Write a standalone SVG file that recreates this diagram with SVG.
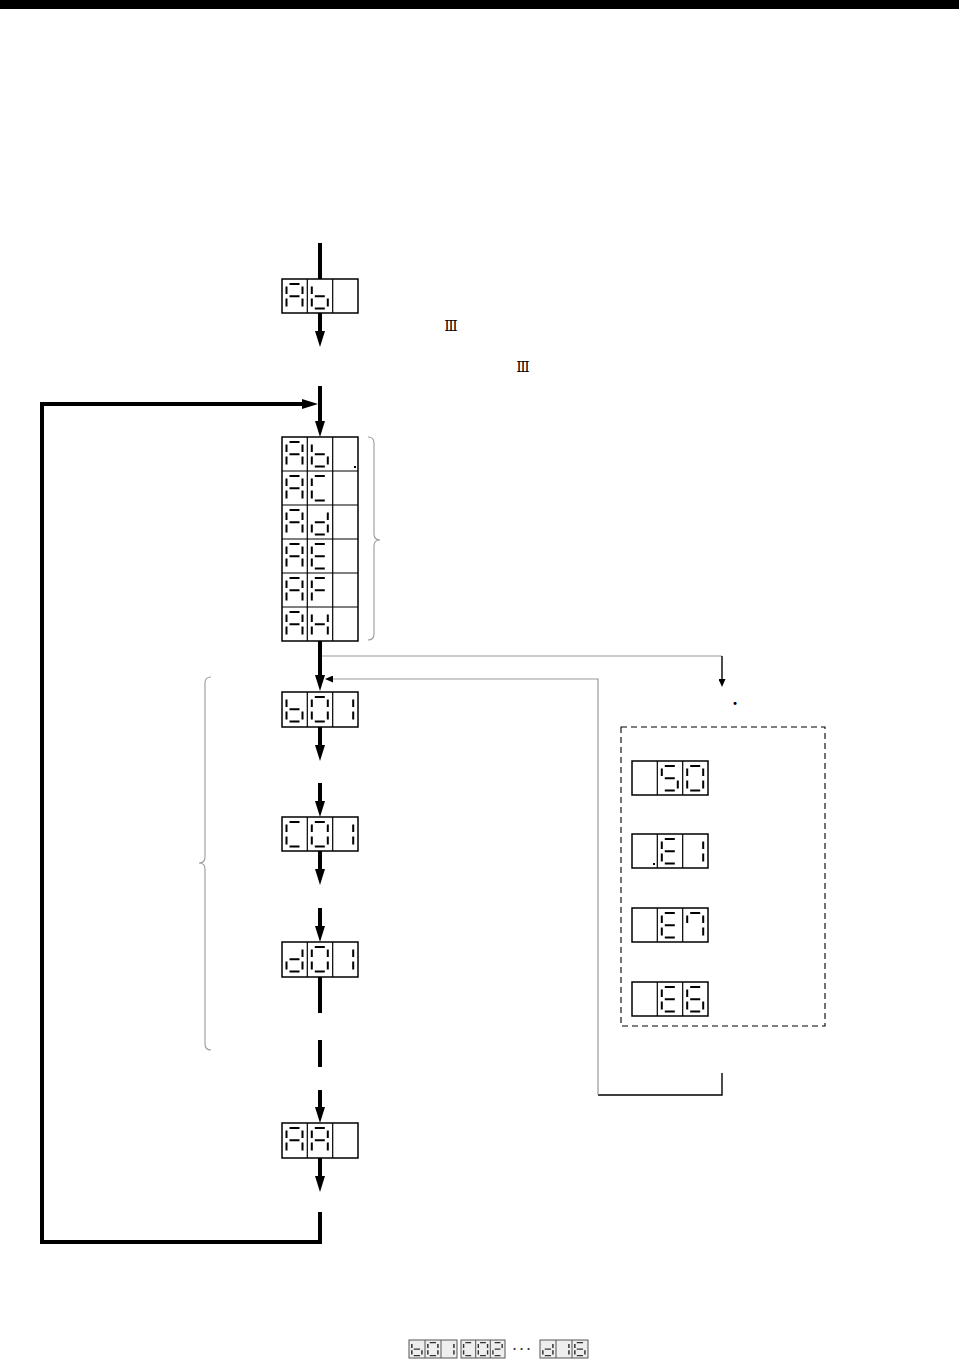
<svg xmlns="http://www.w3.org/2000/svg" xmlns:xlink="http://www.w3.org/1999/xlink" width="959" height="1360" viewBox="0 0 959 1360">
<style>
.disp{fill:#fff;stroke:#000;stroke-width:1.5}
.div{stroke:#000;stroke-width:1.2}
.seg{stroke:#000;stroke-width:2;fill:none}
.main{stroke:#000;stroke-width:4;fill:none}
.thin{stroke:#999;stroke-width:1.2;fill:none}
.thinb{stroke:#000;stroke-width:1.4;fill:none}
.brace{stroke:#999;stroke-width:1.1;fill:none}
.lg{fill:#eee;stroke:#555;stroke-width:1}
.lgseg{stroke:#333;fill:none}
.txt{font-family:"DejaVu Serif","DejaVu Sans",serif;fill:#000}
</style>
<defs>
<marker id="ah" viewBox="0 -5 16 10" refX="8" refY="0" markerWidth="16" markerHeight="10" markerUnits="userSpaceOnUse" orient="auto"><path d="M0,-5 L16,0 L0,5 Z" fill="#000"/></marker>
<marker id="as" viewBox="0 -3.5 8 7" refX="2" refY="0" markerWidth="8" markerHeight="7" markerUnits="userSpaceOnUse" orient="auto"><path d="M0,-3.5 L8,0 L0,3.5 Z" fill="#000"/></marker>
<path id="c-A" d="M7.5 5H17.5M20.5 7.5V15M20.5 19.5V27.5M4.5 19.5V27.5M4.5 7.5V15M7.5 17.3H17.5"/>
<path id="c-b" d="M20.5 19.5V27.5M7.5 29.5H17.5M4.5 19.5V27.5M4.5 7.5V15M7.5 17.3H17.5"/>
<path id="c-C" d="M7.5 5H17.5M7.5 29.5H17.5M4.5 19.5V27.5M4.5 7.5V15"/>
<path id="c-d" d="M20.5 7.5V15M20.5 19.5V27.5M7.5 29.5H17.5M4.5 19.5V27.5M7.5 17.3H17.5"/>
<path id="c-E" d="M7.5 5H17.5M7.5 29.5H17.5M4.5 19.5V27.5M4.5 7.5V15M7.5 17.3H17.5"/>
<path id="c-F" d="M7.5 5H17.5M4.5 19.5V27.5M4.5 7.5V15M7.5 17.3H17.5"/>
<path id="c-H" d="M20.5 7.5V15M20.5 19.5V27.5M4.5 19.5V27.5M4.5 7.5V15M7.5 17.3H17.5"/>
<path id="c-0" d="M7.5 5H17.5M20.5 7.5V15M20.5 19.5V27.5M7.5 29.5H17.5M4.5 19.5V27.5M4.5 7.5V15"/>
<path id="c-1" d="M20.5 7.5V15M20.5 19.5V27.5"/>
<path id="c-2" d="M7.5 5H17.5M20.5 7.5V15M7.5 17.3H17.5M4.5 19.5V27.5M7.5 29.5H17.5"/>
<path id="c-5" d="M7.5 5H17.5M4.5 7.5V15M7.5 17.3H17.5M20.5 19.5V27.5M7.5 29.5H17.5"/>
<path id="c-6" d="M7.5 5H17.5M4.5 7.5V15M7.5 17.3H17.5M4.5 19.5V27.5M20.5 19.5V27.5M7.5 29.5H17.5"/>
<path id="c-7" d="M7.5 5H17.5M4.5 7.5V15M20.5 7.5V15M20.5 19.5V27.5"/>
</defs>

<rect id="topbar" x="0" y="0" width="959" height="9" fill="#000"/>

<g id="connectors">
<path class="main" d="M320 243V279"/>
<path class="main" d="M320 313V339" marker-end="url(#ah)"/>
<path class="main" d="M320 386V429" marker-end="url(#ah)"/>
<path class="main" d="M320 641V683" marker-end="url(#ah)"/>
<path class="main" d="M320 727V753" marker-end="url(#ah)"/>
<path class="main" d="M320 783V809" marker-end="url(#ah)"/>
<path class="main" d="M320 851V877" marker-end="url(#ah)"/>
<path class="main" d="M320 908V934" marker-end="url(#ah)"/>
<path class="main" d="M320 977V1013"/>
<path class="main" d="M320 1040V1067"/>
<path class="main" d="M320 1090V1115" marker-end="url(#ah)"/>
<path class="main" d="M320 1158V1184" marker-end="url(#ah)"/>
<path class="main" d="M320 1212V1242H42V404H310" marker-end="url(#ah)"/>
<path class="thin" d="M322 656H722"/>
<path class="thinb" d="M722 656V681" marker-end="url(#as)"/>
<path class="thinb" d="M722 1073V1095H598"/>
<path class="thin" d="M598 1095V679H331" marker-end="url(#as)"/>
<path class="brace" d="M368 437Q374 437 374 443V534Q374 540 380 540Q374 540 374 546V634Q374 640 368 640"/>
<path class="brace" d="M211 677Q205 677 205 683V857Q205 863 199 863Q205 863 205 869V1044Q205 1050 211 1050"/>
</g>

<g id="n-ab">
<rect class="disp" x="282" y="279" width="76" height="34"/>
<path class="div" d="M307.3 279V313M332.7 279V313"/>
<use href="#c-A" class="seg" x="282" y="279"/><use href="#c-b" class="seg" x="307.3" y="279"/>
</g>

<g id="n-stack">
<rect class="disp" x="282" y="437" width="76" height="204"/>
<path class="div" d="M307.3 437V641M332.7 437V641M282 471H358M282 505H358M282 539H358M282 573H358M282 607H358"/>
<use href="#c-A" class="seg" x="282" y="437"/><use href="#c-b" class="seg" x="307.3" y="437"/>
<rect x="354" y="466" width="2" height="2" fill="#000"/>
<use href="#c-A" class="seg" x="282" y="471"/><use href="#c-C" class="seg" x="307.3" y="471"/>
<use href="#c-A" class="seg" x="282" y="505"/><use href="#c-d" class="seg" x="307.3" y="505"/>
<use href="#c-A" class="seg" x="282" y="539"/><use href="#c-E" class="seg" x="307.3" y="539"/>
<use href="#c-A" class="seg" x="282" y="573"/><use href="#c-F" class="seg" x="307.3" y="573"/>
<use href="#c-A" class="seg" x="282" y="607"/><use href="#c-H" class="seg" x="307.3" y="607"/>
</g>

<g id="n-b01">
<rect class="disp" x="282" y="692" width="76" height="35"/>
<path class="div" d="M307.3 692V727M332.7 692V727"/>
<use href="#c-b" class="seg" x="282" y="692"/><use href="#c-0" class="seg" x="307.3" y="692"/><use href="#c-1" class="seg" x="332.7" y="692"/>
</g>

<g id="n-c01">
<rect class="disp" x="282" y="817" width="76" height="34"/>
<path class="div" d="M307.3 817V851M332.7 817V851"/>
<use href="#c-C" class="seg" x="282" y="817"/><use href="#c-0" class="seg" x="307.3" y="817"/><use href="#c-1" class="seg" x="332.7" y="817"/>
</g>

<g id="n-d01">
<rect class="disp" x="282" y="942" width="76" height="35"/>
<path class="div" d="M307.3 942V977M332.7 942V977"/>
<use href="#c-d" class="seg" x="282" y="942"/><use href="#c-0" class="seg" x="307.3" y="942"/><use href="#c-1" class="seg" x="332.7" y="942"/>
</g>

<g id="n-aa">
<rect class="disp" x="282" y="1123" width="76" height="35"/>
<path class="div" d="M307.3 1123V1158M332.7 1123V1158"/>
<use href="#c-A" class="seg" x="282" y="1123"/><use href="#c-A" class="seg" x="307.3" y="1123"/>
</g>

<g id="n-alarmbox">
<rect x="621" y="727" width="204" height="299" fill="none" stroke="#000" stroke-width="1.1" stroke-dasharray="6 4"/>
</g>

<g id="n-s0">
<rect class="disp" x="632" y="761" width="76" height="34"/>
<path class="div" d="M657.3 761V795M682.7 761V795"/>
<use href="#c-5" class="seg" x="657.3" y="761"/><use href="#c-0" class="seg" x="682.7" y="761"/>
</g>
<g id="n-e1">
<rect class="disp" x="632" y="834" width="76" height="34"/>
<path class="div" d="M657.3 834V868M682.7 834V868"/>
<rect x="653" y="863" width="2" height="2" fill="#000"/>
<use href="#c-E" class="seg" x="657.3" y="834"/><use href="#c-1" class="seg" x="682.7" y="834"/>
</g>
<g id="n-e7">
<rect class="disp" x="632" y="908" width="76" height="34"/>
<path class="div" d="M657.3 908V942M682.7 908V942"/>
<use href="#c-E" class="seg" x="657.3" y="908"/><use href="#c-7" class="seg" x="682.7" y="908"/>
</g>
<g id="n-e6">
<rect class="disp" x="632" y="982" width="76" height="34"/>
<path class="div" d="M657.3 982V1016M682.7 982V1016"/>
<use href="#c-E" class="seg" x="657.3" y="982"/><use href="#c-6" class="seg" x="682.7" y="982"/>
</g>

<g id="labels">
<text class="txt" x="451" y="331" font-size="14" text-anchor="middle">Ⅲ</text>
<text class="txt" x="523" y="372" font-size="14" text-anchor="middle">Ⅲ</text>
<text class="txt" x="735" y="705" font-size="16" text-anchor="middle" font-weight="bold">.</text>
</g>

<g id="legend">
<rect class="lg" x="409" y="1340" width="48" height="18"/>
<path stroke="#555" stroke-width="1" d="M425 1340V1358M441 1340V1358"/>
<g class="lgseg" stroke-width="2.4">
<use href="#c-b" transform="translate(409,1340) scale(0.63,0.53)"/>
<use href="#c-0" transform="translate(425,1340) scale(0.63,0.53)"/>
<use href="#c-1" transform="translate(441,1340) scale(0.63,0.53)"/>
</g>
<rect class="lg" x="461" y="1340" width="44" height="18"/>
<path stroke="#555" stroke-width="1" d="M475.7 1340V1358M490.3 1340V1358"/>
<g class="lgseg" stroke-width="2.4">
<use href="#c-C" transform="translate(461,1340) scale(0.58,0.53)"/>
<use href="#c-0" transform="translate(475.7,1340) scale(0.58,0.53)"/>
<use href="#c-2" transform="translate(490.3,1340) scale(0.58,0.53)"/>
</g>
<text x="522" y="1354" font-family="Liberation Sans, sans-serif" font-size="18" letter-spacing="1" text-anchor="middle" fill="#333">···</text>
<rect class="lg" x="540" y="1340" width="48" height="18"/>
<path stroke="#555" stroke-width="1" d="M556 1340V1358M572 1340V1358"/>
<g class="lgseg" stroke-width="2.4">
<use href="#c-d" transform="translate(540,1340) scale(0.63,0.53)"/>
<use href="#c-1" transform="translate(556,1340) scale(0.63,0.53)"/>
<use href="#c-6" transform="translate(572,1340) scale(0.63,0.53)"/>
</g>
</g>
</svg>
